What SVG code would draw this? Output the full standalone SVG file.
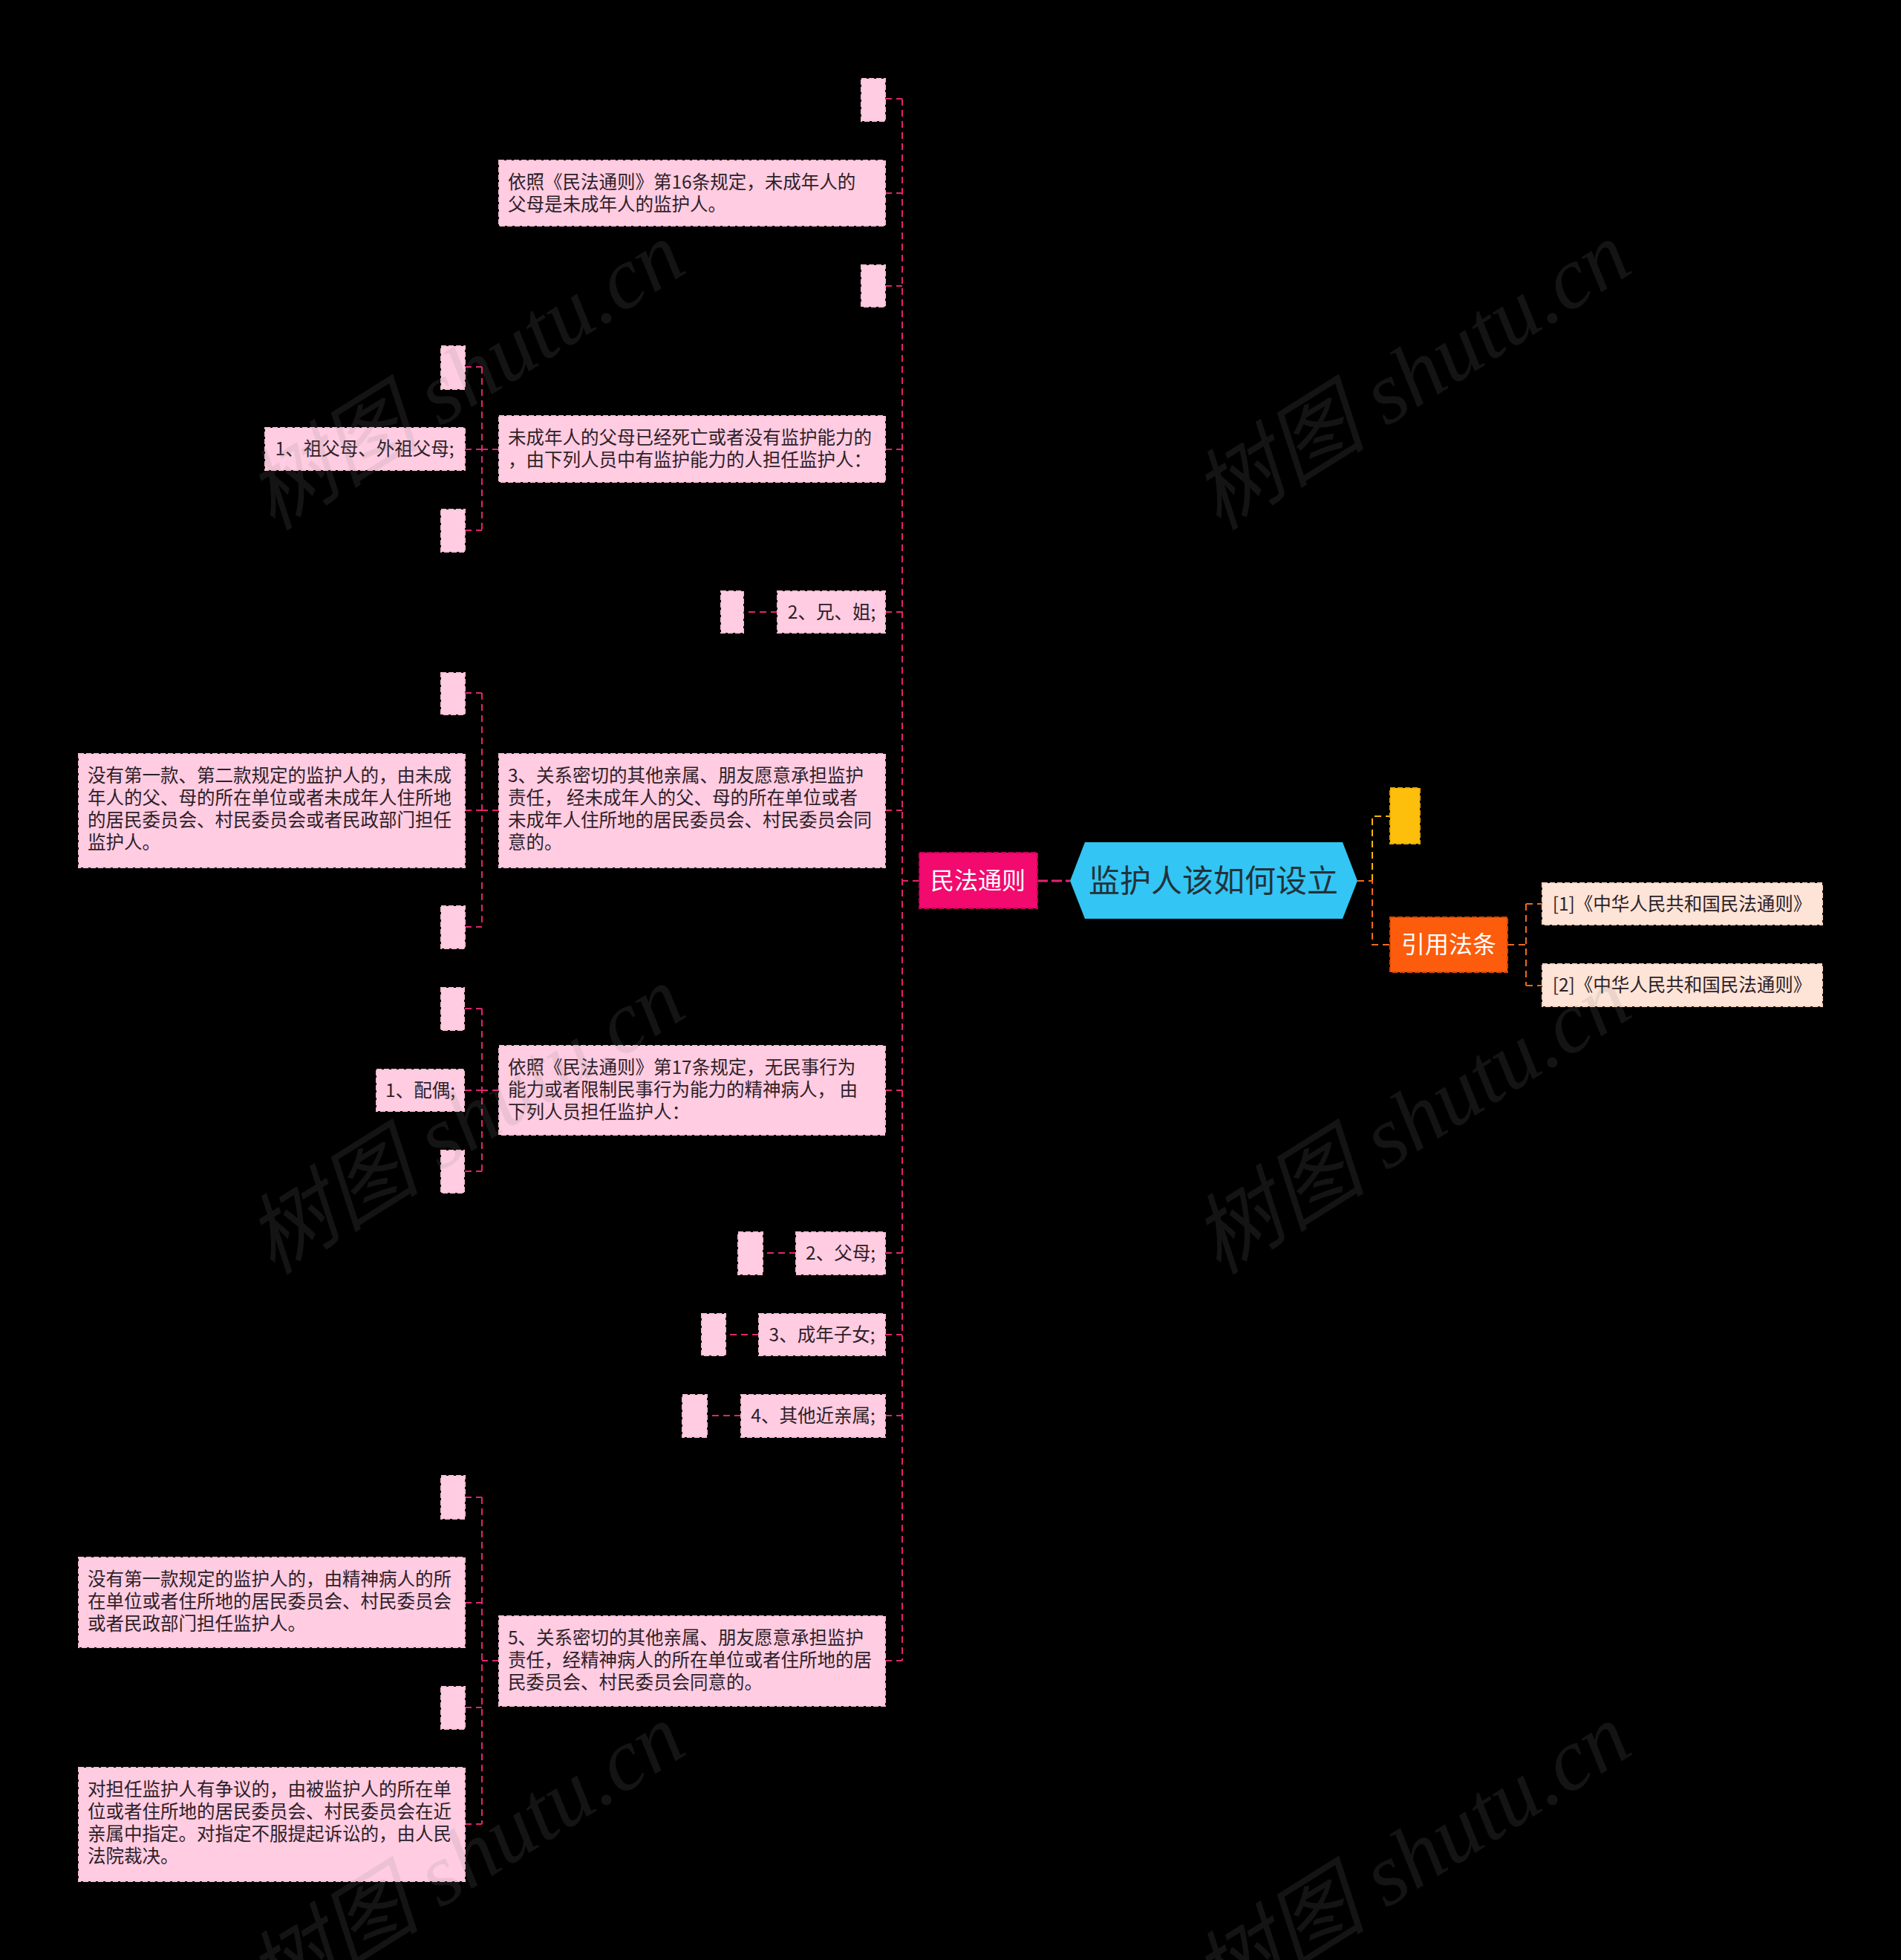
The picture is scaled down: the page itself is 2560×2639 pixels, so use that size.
<svg xmlns="http://www.w3.org/2000/svg" width="2560" height="2639" viewBox="0 0 2560 2639">
<style>
.bg{fill:#000}
.pk{fill:#FFCCE1;stroke:#F7BFD5;stroke-width:2;stroke-dasharray:7 3}
.t{font-family:"Noto Sans CJK SC","Noto Sans",sans-serif;font-size:24.5px;fill:#2e2129}
.tc{text-anchor:middle}
.cn{fill:none;stroke:#E3236F;stroke-width:2;stroke-dasharray:9 6}
.cy{fill:none;stroke:#F5B800;stroke-width:2;stroke-dasharray:9 6}
.co{fill:none;stroke:#EE6A1E;stroke-width:2;stroke-dasharray:9 6}
.wm{font-family:"Liberation Serif","Noto Sans CJK SC",serif;font-style:italic;font-size:118px;fill:#888;opacity:0.15}
</style>
<rect class="bg" x="0" y="0" width="2560" height="2639"/>
<g id="connectors">
<path class="cn" d="M1238,1186 H1215 M1215,133 V2236 M1192,133 H1215 M1192,260 H1215 M1192,385 H1215 M1192,605 H1215 M1192,824 H1215 M1192,1091 H1215 M1192,1468 H1215 M1192,1687 H1215 M1192,1797 H1215 M1192,1906 H1215 M1192,2236 H1215"/>
<path d="M1397,1186 H1441" fill="none" stroke="#E3236F" stroke-width="3" stroke-dasharray="14 5"/>
<path class="cn" d="M672,605 H649 M649,494 V714 M626,494 H649 M626,605 H649 M626,714 H649"/>
<path class="cn" d="M1047,824 H1001"/>
<path class="cn" d="M672,1091 H649 M649,933 V1248 M626,933 H649 M626,1091 H649 M626,1248 H649"/>
<path class="cn" d="M672,1468 H649 M649,1358 V1577 M626,1358 H649 M626,1468 H649 M626,1577 H649"/>
<path class="cn" d="M1072,1687 H1027 M1022,1797 H977 M998,1906 H952"/>
<path class="cn" d="M672,2236 H649 M649,2016 V2456 M626,2016 H649 M626,2158 H649 M626,2299 H649 M626,2456 H649"/>
<path class="cy" d="M1848,1186 V1099 H1872"/>
<path class="co" d="M1828,1186 H1848 V1272 H1872"/>
<path class="co" d="M2030,1272 H2055 M2055,1217 V1327 M2055,1217 H2077 M2055,1327 H2077"/>
</g>
<g id="root">
<polygon points="1441,1186 1461,1134 1808,1134 1828,1186 1808,1237 1461,1237" fill="#33C5F3"/>
<text class="t tc" x="1634" y="1201" style="font-size:42px;fill:#23323a">监护人该如何设立</text>
</g>
<g id="n-minfa">
<rect x="1238" y="1148" width="159" height="75" fill="#F20A6E" stroke="#C8005A" stroke-width="2" stroke-dasharray="7 3"/>
<text class="t tc" x="1317" y="1197" style="font-size:32px;fill:#fff">民法通则</text>
</g>
<g id="n-yellow">
<rect x="1872" y="1061" width="40" height="75" fill="#FDBF0B" stroke="#E8A800" stroke-width="2" stroke-dasharray="7 3"/>
</g>
<g id="n-yinyong">
<rect x="1872" y="1235" width="158" height="74" fill="#FC5C0C" stroke="#D84800" stroke-width="2" stroke-dasharray="7 3"/>
<text class="t tc" x="1951" y="1283" style="font-size:32px;fill:#fff">引用法条</text>
</g>
<g id="n-ref1">
<rect x="2077" y="1189" width="377" height="56" fill="#FDE4D7" stroke="#F3D2C2" stroke-width="2" stroke-dasharray="7 3"/>
<text class="t tc" x="2265" y="1226">[1]《中华人民共和国民法通则》</text>
</g>
<g id="n-ref2">
<rect x="2077" y="1298" width="377" height="57" fill="#FDE4D7" stroke="#F3D2C2" stroke-width="2" stroke-dasharray="7 3"/>
<text class="t tc" x="2265" y="1335">[2]《中华人民共和国民法通则》</text>
</g>
<g id="n-e1"><rect class="pk" x="1160" y="106" width="32" height="57"/></g>
<g id="n-art16">
<rect class="pk" x="672" y="216" width="520" height="88"/>
<text class="t" x="684" y="254">依照《民法通则》第16条规定，未成年人的</text>
<text class="t" x="684" y="284">父母是未成年人的监护人。</text>
</g>
<g id="n-e2"><rect class="pk" x="1160" y="357" width="32" height="56"/></g>
<g id="n-parentsdead">
<rect class="pk" x="672" y="560" width="520" height="89"/>
<text class="t" x="684" y="598">未成年人的父母已经死亡或者没有监护能力的</text>
<text class="t" x="684" y="628">，由下列人员中有监护能力的人担任监护人：</text>
</g>
<g id="n-e3"><rect class="pk" x="594" y="466" width="32" height="58"/></g>
<g id="n-grand">
<rect class="pk" x="357" y="576" width="269" height="57"/>
<text class="t tc" x="491" y="613">1、祖父母、外祖父母;</text>
</g>
<g id="n-e4"><rect class="pk" x="594" y="686" width="32" height="57"/></g>
<g id="n-sibling">
<rect class="pk" x="1047" y="796" width="145" height="56"/>
<text class="t tc" x="1120" y="833">2、兄、姐;</text>
</g>
<g id="n-e5"><rect class="pk" x="971" y="796" width="30" height="56"/></g>
<g id="n-item3">
<rect class="pk" x="672" y="1015" width="520" height="153"/>
<text class="t" x="684" y="1053">3、关系密切的其他亲属、朋友愿意承担监护</text>
<text class="t" x="684" y="1083">责任， 经未成年人的父、母的所在单位或者</text>
<text class="t" x="684" y="1113">未成年人住所地的居民委员会、村民委员会同</text>
<text class="t" x="684" y="1143">意的。</text>
</g>
<g id="n-e6"><rect class="pk" x="594" y="906" width="32" height="56"/></g>
<g id="n-noguard1">
<rect class="pk" x="106" y="1015" width="520" height="153"/>
<text class="t" x="118" y="1053">没有第一款、第二款规定的监护人的，由未成</text>
<text class="t" x="118" y="1083">年人的父、母的所在单位或者未成年人住所地</text>
<text class="t" x="118" y="1113">的居民委员会、村民委员会或者民政部门担任</text>
<text class="t" x="118" y="1143">监护人。</text>
</g>
<g id="n-e7"><rect class="pk" x="594" y="1220" width="32" height="57"/></g>
<g id="n-art17">
<rect class="pk" x="672" y="1408" width="520" height="120"/>
<text class="t" x="684" y="1446">依照《民法通则》第17条规定，无民事行为</text>
<text class="t" x="684" y="1476">能力或者限制民事行为能力的精神病人， 由</text>
<text class="t" x="684" y="1506">下列人员担任监护人：</text>
</g>
<g id="n-e8"><rect class="pk" x="594" y="1330" width="31" height="57"/></g>
<g id="n-spouse">
<rect class="pk" x="507" y="1440" width="118" height="56"/>
<text class="t tc" x="566" y="1477">1、配偶;</text>
</g>
<g id="n-e9"><rect class="pk" x="594" y="1549" width="31" height="57"/></g>
<g id="n-parents">
<rect class="pk" x="1072" y="1659" width="120" height="57"/>
<text class="t tc" x="1132" y="1696">2、父母;</text>
</g>
<g id="n-e10"><rect class="pk" x="994" y="1659" width="33" height="57"/></g>
<g id="n-children">
<rect class="pk" x="1022" y="1769" width="170" height="56"/>
<text class="t tc" x="1107" y="1806">3、成年子女;</text>
</g>
<g id="n-e11"><rect class="pk" x="945" y="1769" width="32" height="56"/></g>
<g id="n-relatives">
<rect class="pk" x="998" y="1878" width="194" height="57"/>
<text class="t tc" x="1095" y="1915">4、其他近亲属;</text>
</g>
<g id="n-e12"><rect class="pk" x="919" y="1878" width="33" height="57"/></g>
<g id="n-item5">
<rect class="pk" x="672" y="2176" width="520" height="121"/>
<text class="t" x="684" y="2214">5、关系密切的其他亲属、朋友愿意承担监护</text>
<text class="t" x="684" y="2244">责任，经精神病人的所在单位或者住所地的居</text>
<text class="t" x="684" y="2274">民委员会、村民委员会同意的。</text>
</g>
<g id="n-e13"><rect class="pk" x="594" y="1987" width="32" height="58"/></g>
<g id="n-noguard2">
<rect class="pk" x="106" y="2097" width="520" height="121"/>
<text class="t" x="118" y="2135">没有第一款规定的监护人的，由精神病人的所</text>
<text class="t" x="118" y="2165">在单位或者住所地的居民委员会、村民委员会</text>
<text class="t" x="118" y="2195">或者民政部门担任监护人。</text>
</g>
<g id="n-e14"><rect class="pk" x="594" y="2271" width="32" height="57"/></g>
<g id="n-dispute">
<rect class="pk" x="106" y="2380" width="520" height="153"/>
<text class="t" x="118" y="2418">对担任监护人有争议的，由被监护人的所在单</text>
<text class="t" x="118" y="2448">位或者住所地的居民委员会、村民委员会在近</text>
<text class="t" x="118" y="2478">亲属中指定。对指定不服提起诉讼的，由人民</text>
<text class="t" x="118" y="2508">法院裁决。</text>
</g>
<g id="watermarks">
<text class="wm" text-anchor="middle" transform="translate(648,540) rotate(-32)">树图 shutu.cn</text>
<text class="wm" text-anchor="middle" transform="translate(1922,540) rotate(-32)">树图 shutu.cn</text>
<text class="wm" text-anchor="middle" transform="translate(648,1542) rotate(-32)">树图 shutu.cn</text>
<text class="wm" text-anchor="middle" transform="translate(1922,1542) rotate(-32)">树图 shutu.cn</text>
<text class="wm" text-anchor="middle" transform="translate(648,2535) rotate(-32)">树图 shutu.cn</text>
<text class="wm" text-anchor="middle" transform="translate(1922,2535) rotate(-32)">树图 shutu.cn</text>
</g>
</svg>
